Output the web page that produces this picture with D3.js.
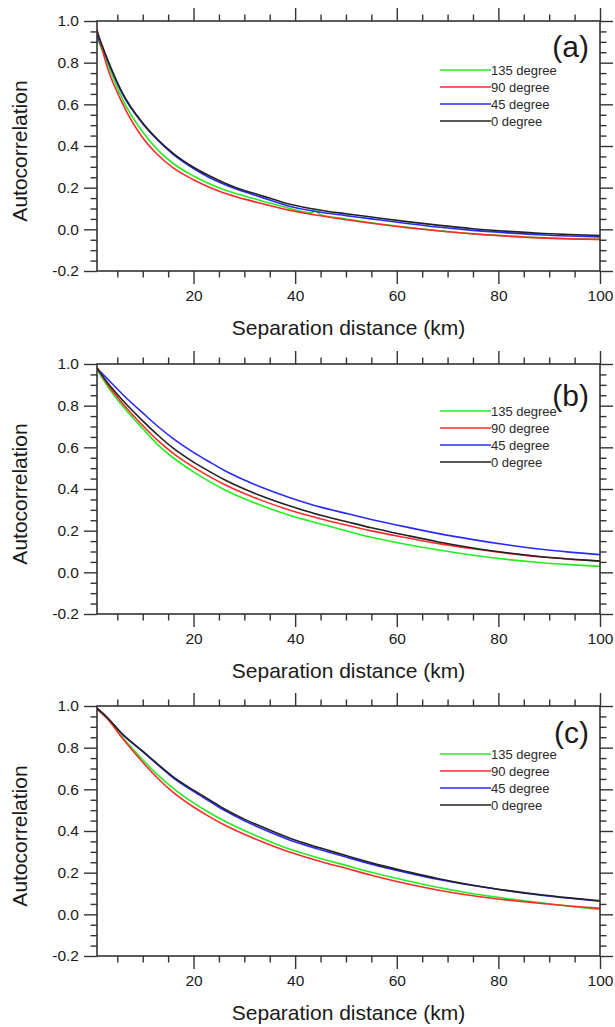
<!DOCTYPE html>
<html>
<head>
<meta charset="utf-8">
<script src="https://cdn.jsdelivr.net/npm/d3@7"></script>
<style>
  html, body { margin: 0; padding: 0; background: #fff; }
  svg { display: block; font-family: "Liberation Sans", Arial, Helvetica, sans-serif; }
</style>
</head>
<body>
<svg id="chart" width="615" height="1027"></svg>
<script>
// ---------- data ----------
const distance = [1, 3, 6, 10, 13, 16, 20, 23, 26, 30, 33, 39, 43, 44, 45, 50, 55, 62, 68, 75, 82, 88, 94, 100];

const seriesNames = ["135 degree", "90 degree", "45 degree", "0 degree"];
const panelLabels = ["(a)", "(b)", "(c)"];
const yTickValues = [-0.2, 0.0, 0.2, 0.4, 0.6, 0.8, 1.0];
const xTickValues = [20, 40, 60, 80, 100];

// panel (a)
const a135 = [0.92, 0.80, 0.625, 0.467, 0.38, 0.316, 0.256, 0.22, 0.19, 0.16, 0.14, 0.10, 0.079, 0.088, 0.07, 0.05, 0.032, 0.01, -0.006, -0.021, -0.032, -0.04, -0.045, -0.049];
const a90  = [0.96, 0.78, 0.605, 0.44, 0.357, 0.295, 0.238, 0.203, 0.174, 0.145, 0.126, 0.091, 0.073, 0.069, 0.065, 0.046, 0.029, 0.008, -0.007, -0.022, -0.033, -0.041, -0.046, -0.048];
const a45  = [0.93, 0.815, 0.65, 0.507, 0.427, 0.36, 0.292, 0.25, 0.216, 0.18, 0.157, 0.11, 0.09, 0.086, 0.082, 0.066, 0.05, 0.028, 0.011, -0.005, -0.017, -0.026, -0.032, -0.036];
const a0   = [0.95, 0.82, 0.655, 0.51, 0.43, 0.365, 0.298, 0.258, 0.224, 0.186, 0.165, 0.12, 0.10, 0.096, 0.092, 0.075, 0.059, 0.037, 0.02, 0.003, -0.01, -0.019, -0.025, -0.03];

// panel (b)
const b135 = [0.975, 0.895, 0.80, 0.69, 0.612, 0.55, 0.482, 0.438, 0.398, 0.353, 0.324, 0.273, 0.245, 0.238, 0.232, 0.2, 0.168, 0.134, 0.108, 0.082, 0.061, 0.047, 0.037, 0.029];
const b90  = [0.985, 0.905, 0.812, 0.705, 0.632, 0.571, 0.505, 0.462, 0.423, 0.378, 0.349, 0.298, 0.27, 0.263, 0.257, 0.227, 0.199, 0.166, 0.139, 0.113, 0.091, 0.075, 0.063, 0.054];
const b45  = [0.98, 0.93, 0.855, 0.765, 0.70, 0.642, 0.576, 0.532, 0.49, 0.443, 0.412, 0.358, 0.327, 0.32, 0.313, 0.283, 0.254, 0.217, 0.187, 0.157, 0.131, 0.112, 0.097, 0.085];
const b0   = [0.98, 0.912, 0.827, 0.727, 0.658, 0.596, 0.529, 0.486, 0.446, 0.40, 0.37, 0.318, 0.288, 0.281, 0.274, 0.244, 0.214, 0.177, 0.147, 0.117, 0.093, 0.076, 0.064, 0.054];

// panel (c)
const c135 = [0.985, 0.94, 0.85, 0.742, 0.668, 0.605, 0.535, 0.49, 0.449, 0.402, 0.37, 0.312, 0.282, 0.275, 0.268, 0.235, 0.202, 0.161, 0.13, 0.099, 0.075, 0.056, 0.039, 0.023];
const c90  = [0.985, 0.94, 0.845, 0.73, 0.652, 0.585, 0.515, 0.47, 0.43, 0.384, 0.353, 0.298, 0.268, 0.261, 0.254, 0.221, 0.188, 0.147, 0.117, 0.089, 0.068, 0.053, 0.04, 0.029];
const c45  = [0.99, 0.945, 0.865, 0.781, 0.717, 0.655, 0.59, 0.545, 0.50, 0.449, 0.416, 0.356, 0.325, 0.317, 0.31, 0.275, 0.241, 0.20, 0.168, 0.138, 0.112, 0.093, 0.077, 0.063];
const c0   = [0.99, 0.945, 0.865, 0.783, 0.72, 0.66, 0.596, 0.552, 0.507, 0.457, 0.425, 0.365, 0.333, 0.325, 0.318, 0.282, 0.247, 0.205, 0.172, 0.14, 0.114, 0.095, 0.079, 0.065];

// ---------- styling / layout ----------
const colors = {"135 degree": "#22ee22", "90 degree": "#ff2a2a", "45 degree": "#2a2aff", "0 degree": "#222222"};
const drawOrder = ["135 degree", "45 degree", "90 degree", "0 degree"];

const panels = [
  {label: panelLabels[0], top: 21,  series: {"135 degree": a135, "90 degree": a90, "45 degree": a45, "0 degree": a0}, labelDy: 36, legendDy: 49},
  {label: panelLabels[1], top: 364, series: {"135 degree": b135, "90 degree": b90, "45 degree": b45, "0 degree": b0}, labelDy: 42, legendDy: 47},
  {label: panelLabels[2], top: 706, series: {"135 degree": c135, "90 degree": c90, "45 degree": c45, "0 degree": c0}, labelDy: 37, legendDy: 48}
];

const left = 97, right = 600, plotH = 250;
const axisColor = "#333";
const textColor = "#1a1a1a";

const svg = d3.select("#chart");
svg.append("rect").attr("width", 615).attr("height", 1027).attr("fill", "#fff");

const x = d3.scaleLinear().domain([1, 100]).range([left, right]);
const xMinor = d3.range(5, 101, 5).filter(v => v % 20 !== 0);
const yMinor = d3.range(-0.2, 1.0001, 0.05).map(v => +v.toFixed(2)).filter(v => Math.abs(Math.round(v * 5) - v * 5) > 1e-6);

panels.forEach((p, pi) => {
  const bottom = p.top + plotH;
  const y = d3.scaleLinear().domain([-0.2, 1.0]).range([bottom, p.top]);
  const g = svg.append("g");

  const styleAxis = sel => {
    sel.select(".domain").remove();
    sel.selectAll(".tick line").attr("stroke", axisColor).attr("stroke-width", 1.4);
    sel.selectAll(".tick text").attr("fill", textColor).attr("font-size", 15.5)
      .attr("font-family", '"Liberation Sans", Arial, sans-serif');
  };

  // bottom axis
  g.append("g").attr("transform", `translate(0,${bottom})`)
    .call(d3.axisBottom(x).tickValues(xTickValues).tickSize(13).tickPadding(6).tickFormat(d3.format("d")))
    .call(styleAxis);
  g.append("g").attr("transform", `translate(0,${bottom})`)
    .call(d3.axisBottom(x).tickValues(xMinor).tickSize(6.5).tickFormat(""))
    .call(styleAxis);
  // top axis
  g.append("g").attr("transform", `translate(0,${p.top})`)
    .call(d3.axisTop(x).tickValues(xTickValues).tickSize(13).tickFormat(""))
    .call(styleAxis);
  g.append("g").attr("transform", `translate(0,${p.top})`)
    .call(d3.axisTop(x).tickValues(xMinor).tickSize(6.5).tickFormat(""))
    .call(styleAxis);
  // left axis
  g.append("g").attr("transform", `translate(${left},0)`)
    .call(d3.axisLeft(y).tickValues(yTickValues).tickSize(13).tickPadding(5).tickFormat(d3.format(".1f")))
    .call(styleAxis);
  g.append("g").attr("transform", `translate(${left},0)`)
    .call(d3.axisLeft(y).tickValues(yMinor).tickSize(6.5).tickFormat(""))
    .call(styleAxis);
  // right axis
  g.append("g").attr("transform", `translate(${right},0)`)
    .call(d3.axisRight(y).tickValues(yTickValues).tickSize(13).tickFormat(""))
    .call(styleAxis);
  g.append("g").attr("transform", `translate(${right},0)`)
    .call(d3.axisRight(y).tickValues(yMinor).tickSize(6.5).tickFormat(""))
    .call(styleAxis);

  // hyphen-minus like the reference
  g.selectAll(".tick text").text(function() { return d3.select(this).text().replace("\u2212", "-"); });

  // clip
  const clipId = "clip" + pi;
  svg.append("clipPath").attr("id", clipId).append("rect")
    .attr("x", left).attr("y", p.top).attr("width", right - left).attr("height", plotH);

  const line = d3.line().x((d, i) => x(distance[i])).y(d => y(d)).curve(d3.curveMonotoneX);
  const lines = g.append("g").attr("clip-path", `url(#${clipId})`);
  drawOrder.forEach(name => {
    lines.append("path").datum(p.series[name])
      .attr("d", line).attr("fill", "none")
      .attr("stroke", colors[name]).attr("stroke-width", 1.6)
      .attr("stroke-linejoin", "round");
  });

  // frame
  g.append("rect").attr("x", left).attr("y", p.top).attr("width", right - left).attr("height", plotH)
    .attr("fill", "none").attr("stroke", axisColor).attr("stroke-width", 1.6);

  // panel label
  g.append("text").attr("x", 589).attr("y", p.top + p.labelDy)
    .attr("text-anchor", "end").attr("font-size", 30).attr("fill", textColor).text(p.label);

  // legend
  seriesNames.forEach((name, i) => {
    const ly = p.top + p.legendDy + i * 17;
    g.append("line").attr("x1", 440).attr("x2", 491).attr("y1", ly).attr("y2", ly)
      .attr("stroke", colors[name]).attr("stroke-width", 1.6);
    g.append("text").attr("x", 491).attr("y", ly).attr("dy", "0.35em")
      .attr("font-size", 13).attr("fill", "#2a2a2a").text(name);
  });

  // axis titles
  g.append("text").attr("x", (left + right) / 2).attr("y", bottom + 64)
    .attr("text-anchor", "middle").attr("font-size", 21).attr("fill", textColor)
    .text("Separation distance (km)");
  g.append("text").attr("transform", `translate(27,${p.top + plotH / 2 + 5}) rotate(-90)`)
    .attr("text-anchor", "middle").attr("font-size", 21).attr("fill", textColor)
    .text("Autocorrelation");
});
</script>
</body>
</html>
